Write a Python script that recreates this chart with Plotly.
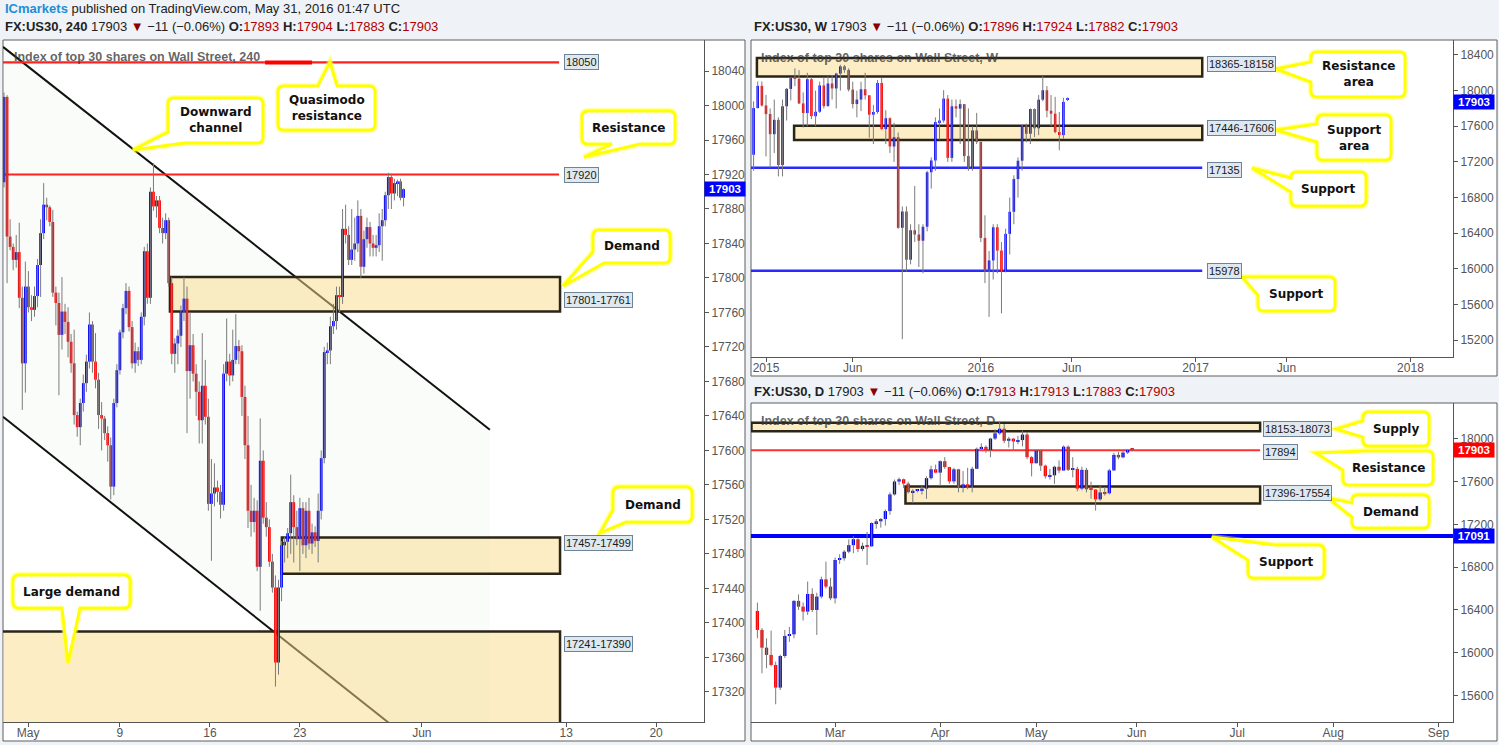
import plotly.graph_objects as go

W, H = 1499, 745

# ---------------- 4H (240) chart data ----------------
h4_open = [17911, 18010, 17848, 17836, 17821, 17830, 17777, 17701, 17790, 17766, 17763, 17779, 17815, 17852, 17885, 17882,
           17865, 17783, 17771, 17734, 17761, 17749, 17726, 17701, 17641, 17627, 17655, 17678, 17703, 17746, 17703, 17682,
           17641, 17637, 17620, 17606, 17558, 17655, 17693, 17737, 17765, 17785, 17743, 17701, 17715, 17705, 17755, 17831,
           17777, 17900, 17883, 17890, 17858, 17852, 17867, 17794, 17712, 17724, 17733, 17761, 17776, 17692, 17722, 17689,
           17668, 17635, 17675, 17639, 17538, 17550, 17557, 17552, 17537, 17689, 17703, 17687, 17705, 17721, 17715, 17662,
           17606, 17530, 17517, 17530, 17465, 17588, 17522, 17511, 17471, 17441, 17354, 17441, 17490, 17494, 17504, 17540,
           17511, 17497, 17533, 17490, 17530, 17492, 17505, 17495, 17530, 17591, 17714, 17716, 17744, 17750, 17780, 17778,
           17857, 17850, 17821, 17833, 17840, 17872, 17813, 17845, 17859, 17840, 17835, 17838, 17860, 17867, 17896, 17917,
           17898, 17910, 17912, 17893]
h4_high = [18015, 18012, 17868, 17840, 17850, 17864, 17790, 17819, 17808, 17780, 17790, 17822, 17868, 17910, 17893, 17884,
           17879, 17790, 17783, 17801, 17770, 17766, 17735, 17740, 17645, 17660, 17688, 17711, 17760, 17750, 17736, 17690,
           17656, 17640, 17628, 17615, 17660, 17700, 17740, 17770, 17794, 17790, 17750, 17725, 17720, 17760, 17836, 17840,
           17905, 17933, 17895, 17895, 17870, 17875, 17870, 17801, 17730, 17740, 17768, 17801, 17790, 17760, 17735, 17700,
           17680, 17736, 17705, 17660, 17590, 17585, 17565, 17560, 17700, 17753, 17712, 17740, 17758, 17728, 17722, 17675,
           17640, 17560, 17545, 17542, 17637, 17600, 17540, 17520, 17480, 17455, 17450, 17495, 17500, 17510, 17572, 17548,
           17530, 17545, 17540, 17540, 17545, 17515, 17512, 17550, 17600, 17720, 17725, 17755, 17770, 17790, 17790, 17880,
           17885, 17860, 17880, 17870, 17890, 17880, 17855, 17870, 17865, 17850, 17850, 17875, 17880, 17900, 17922, 17921,
           17915, 17914, 17915, 17904]
h4_low = [17905, 17794, 17832, 17809, 17812, 17765, 17647, 17667, 17760, 17750, 17755, 17766, 17778, 17845, 17867, 17860,
          17778, 17745, 17664, 17717, 17735, 17708, 17690, 17630, 17616, 17606, 17645, 17668, 17695, 17690, 17672, 17625,
          17600, 17612, 17587, 17543, 17548, 17650, 17688, 17730, 17758, 17738, 17695, 17690, 17698, 17700, 17745, 17770,
          17770, 17878, 17870, 17852, 17840, 17845, 17790, 17700, 17690, 17700, 17720, 17750, 17620, 17660, 17680, 17640,
          17608, 17608, 17630, 17530, 17472, 17535, 17540, 17521, 17530, 17680, 17675, 17680, 17700, 17700, 17640, 17590,
          17510, 17500, 17505, 17460, 17414, 17515, 17500, 17465, 17435, 17326, 17340, 17425, 17470, 17475, 17480, 17470,
          17490, 17460, 17480, 17475, 17485, 17480, 17488, 17470, 17520, 17585, 17700, 17700, 17735, 17740, 17760, 17770,
          17840, 17815, 17815, 17820, 17830, 17800, 17805, 17835, 17825, 17825, 17825, 17830, 17820, 17860, 17880, 17880,
          17890, 17895, 17890, 17883]
h4_close = [18010, 17848, 17836, 17821, 17830, 17777, 17701, 17790, 17766, 17763, 17779, 17815, 17852, 17885, 17882, 17865,
            17783, 17771, 17734, 17761, 17749, 17726, 17701, 17641, 17627, 17655, 17678, 17703, 17746, 17703, 17682, 17641,
            17637, 17620, 17606, 17558, 17655, 17693, 17737, 17765, 17785, 17743, 17701, 17715, 17705, 17755, 17831, 17777,
            17900, 17883, 17890, 17858, 17852, 17867, 17794, 17712, 17724, 17733, 17761, 17776, 17692, 17722, 17689, 17668,
            17635, 17675, 17639, 17538, 17550, 17557, 17552, 17537, 17689, 17703, 17687, 17705, 17721, 17715, 17662, 17606,
            17530, 17517, 17530, 17465, 17588, 17522, 17511, 17471, 17441, 17354, 17441, 17490, 17494, 17504, 17540, 17511,
            17497, 17533, 17490, 17530, 17492, 17505, 17495, 17530, 17591, 17714, 17716, 17744, 17750, 17780, 17778, 17857,
            17850, 17821, 17833, 17840, 17872, 17813, 17845, 17859, 17840, 17835, 17838, 17860, 17867, 17896, 17917, 17898,
            17910, 17912, 17893, 17903]
h4_tick_pos = [7.9, 38.0, 67.5, 97.0, 137.0, 184.3, 213.8]
h4_tick_text = ["May", "9", "16", "23", "Jun", "13", "20"]
h4_levels = [18050, 17920]
h4_zone_hi = [17801, 17499, 17390]
h4_zone_lo = [17761, 17457, 17241]

# ---------------- Weekly chart data (first bar = week -3) ----------------
w_open = [17280, 17804, 18053, 17833, 17737, 17511, 17672, 17165, 17824, 18019, 18140, 18133, 17856, 17749, 18128, 17713,
          17763, 18058, 17826, 18080, 18024, 18191, 18272, 18232, 18011, 17849, 17899, 18015, 17947, 17730, 17760, 18086,
          17568, 17690, 17373, 17477, 16460, 16643, 16102, 16433, 16385, 16315, 16472, 17084, 17216, 17647, 17664, 17910,
          17245, 17824, 17798, 17848, 17265, 17128, 17553, 17425, 16347, 15988, 16094, 16466, 16205, 15974, 16392, 16640,
          17007, 17213, 17602, 17516, 17793, 17577, 17898, 18004, 17774, 17741, 17535, 17501, 17896]
w_high = [17880, 18103, 18103, 17951, 17800, 17900, 17700, 17900, 18030, 18140, 18250, 18230, 17980, 18200, 18150, 18000,
          18100, 18150, 18160, 18175, 18200, 18290, 18288, 18250, 18100, 18000, 18100, 18200, 17950, 17840, 18120, 18140,
          17780, 17700, 17640, 17530, 16700, 16700, 16500, 16930, 16500, 16500, 17100, 17250, 17700, 17800, 18005, 17950,
          17900, 17900, 17900, 17850, 17800, 17600, 17750, 17425, 16600, 16200, 16500, 16500, 16300, 16450, 16800, 17050,
          17250, 17620, 17630, 17800, 17800, 17950, 18165, 18050, 17950, 17930, 17760, 17920, 17924]
w_low = [17100, 17800, 17820, 17262, 17136, 17300, 17037, 17037, 17664, 17890, 18050, 17850, 17585, 17600, 17680, 17600,
         17750, 17800, 17820, 17900, 17800, 18000, 18200, 17990, 17800, 17700, 17770, 17900, 17470, 17400, 17740, 17560,
         17400, 17300, 17200, 16450, 15210, 15970, 16050, 16300, 16020, 15950, 16420, 16900, 17100, 17450, 17640, 17200,
         17200, 17700, 17400, 17200, 17100, 17100, 17400, 16300, 15840, 15460, 15880, 15950, 15500, 15960, 16160, 16500,
         16800, 17100, 17420, 17400, 17480, 17500, 17880, 17700, 17600, 17520, 17330, 17460, 17882]
w_close = [17804, 18053, 17833, 17737, 17511, 17672, 17165, 17824, 18019, 18140, 18133, 17856, 17749, 18128, 17713, 17763,
           18058, 17826, 18080, 18024, 18191, 18272, 18232, 18011, 17849, 17899, 18015, 17947, 17730, 17760, 18086, 17568,
           17690, 17373, 17477, 16460, 16643, 16102, 16433, 16385, 16315, 16472, 17084, 17216, 17647, 17664, 17910, 17245,
           17824, 17798, 17848, 17265, 17128, 17553, 17425, 16347, 15988, 16094, 16466, 16205, 15974, 16392, 16640, 17007,
           17213, 17602, 17516, 17793, 17577, 17898, 18004, 17774, 17741, 17535, 17501, 17873, 17903]
w_tick_pos = [0, 21, 52, 74, 104, 126, 156]
w_tick_text = ["2015", "Jun", "2016", "Jun", "2017", "Jun", "2018"]
w_zone_hi = [18365, 17606]
w_zone_lo = [18158, 17446]
w_supports = [17135, 15978]

# ---------------- Daily chart data (first bar = Feb 5 2016, index -17) ----------------
d_open = [16390, 16212, 16046, 15978, 15884, 15672, 15968, 16156, 16171, 16484, 16430, 16384, 16549, 16399, 16524, 16686, 16618,
          16508, 16867, 16883, 16945, 17006, 17061, 16970, 17000, 16995, 17213, 17229, 17251, 17325, 17481, 17602, 17623, 17582,
          17502, 17515, 17520, 17535, 17633, 17716,
          17685, 17792, 17737, 17603, 17716, 17541, 17576, 17556, 17721, 17908, 17926, 17897, 18004, 18053, 18096, 17983, 18003,
          17977, 17990, 18041, 17830,
          17773, 17891, 17750, 17651, 17660, 17740, 17705, 17928, 17711, 17720, 17535, 17711, 17529, 17526, 17435, 17500, 17492,
          17706, 17851, 17828, 17873, 17913]
d_high = [16468, 16230, 16134, 16206, 15915, 15980, 16212, 16240, 16490, 16545, 16470, 16665, 16602, 16560, 16711, 16852, 16700,
          16890, 16920, 16960, 17060, 17090, 17070, 17030, 17130, 17220, 17250, 17260, 17340, 17500, 17620, 17640, 17630, 17600,
          17530, 17530, 17560, 17650, 17750, 17760,
          17800, 17830, 17740, 17730, 17720, 17700, 17730, 17740, 17920, 17960, 17940, 18010, 18090, 18167, 18140, 18020, 18010,
          18030, 18080, 18060, 17840,
          17900, 17900, 17760, 17720, 17750, 17800, 17940, 17940, 17830, 17740, 17740, 17730, 17600, 17530, 17560, 17550, 17720,
          17870, 17880, 17890, 17905, 17913]
d_low = [16134, 15806, 15853, 15870, 15516, 15650, 15950, 16100, 16134, 16400, 16300, 16352, 16380, 16165, 16508, 16600, 16490,
         16460, 16830, 16860, 16930, 16930, 16940, 16950, 16820, 16990, 17160, 17170, 17190, 17290, 17470, 17570, 17540, 17490,
         17400, 17500, 17480, 17440, 17620, 17680,
         17560, 17720, 17580, 17580, 17500, 17500, 17530, 17500, 17720, 17890, 17870, 17830, 17990, 18040, 17960, 17920, 17890,
         17950, 17930, 17810, 17650,
         17770, 17700, 17630, 17620, 17580, 17680, 17700, 17700, 17640, 17510, 17520, 17500, 17440, 17330, 17420, 17470, 17480,
         17700, 17810, 17820, 17860, 17883]
d_close = [16212, 16046, 15978, 15884, 15672, 15968, 16156, 16171, 16484, 16430, 16384, 16549, 16399, 16524, 16686, 16618, 16508,
           16867, 16883, 16945, 17006, 17061, 16970, 17000, 16995, 17213, 17229, 17251, 17325, 17481, 17602, 17623, 17582, 17502,
           17515, 17520, 17535, 17633, 17716, 17685,
           17792, 17737, 17603, 17716, 17541, 17576, 17556, 17721, 17908, 17926, 17897, 18004, 18053, 18096, 17983, 18003, 17977,
           17990, 18041, 17830, 17773,
           17891, 17750, 17651, 17660, 17740, 17705, 17928, 17711, 17720, 17535, 17711, 17529, 17526, 17435, 17500, 17492, 17706,
           17851, 17828, 17873, 17896, 17903]
d_tick_pos = [0, 23, 44, 66, 88, 109, 132]
d_tick_text = ["Mar", "Apr", "May", "Jun", "Jul", "Aug", "Sep"]
d_zone_hi = [18153, 17554]
d_zone_lo = [18073, 17396]
d_resistance = 17894
d_support = 17091
last_price = 17903

h4_x = list(range(len(h4_open)))
w_x = list(range(-3, -3 + len(w_open)))
d_x = list(range(-17, -17 + len(d_open)))


def X(p):
    return p / W


def Y(p):
    return 1 - p / H


fig = go.Figure()


def add_candles(xs, o, h, l, c, xa, ya, width, eps):
    wx, wy = [], []
    for x, hi, lo in zip(xs, h, l):
        wx += [x, x, None]
        wy += [lo, hi, None]
    fig.add_trace(go.Scatter(x=wx, y=wy, mode="lines", line=dict(color="#7b7b7b", width=1),
                             xaxis=xa, yaxis=ya, hoverinfo="skip", showlegend=False))
    base = [min(a, b) for a, b in zip(o, c)]
    hgt = [max(abs(b - a), eps) for a, b in zip(o, c)]
    col = ["#0000ff" if b >= a else "#ff0000" for a, b in zip(o, c)]
    fig.add_trace(go.Bar(x=xs, y=hgt, base=base, width=width,
                         marker=dict(color=col, line=dict(width=0)),
                         xaxis=xa, yaxis=ya, hoverinfo="skip", showlegend=False))


add_candles(h4_x, h4_open, h4_high, h4_low, h4_close, "x", "y", 0.9, 1.5)
add_candles(w_x, w_open, w_high, w_low, w_close, "x2", "y2", 0.62, 12)
add_candles(d_x, d_open, d_high, d_low, d_close, "x3", "y3", 0.72, 10)

shapes = []
# panel backgrounds and frames
panels = [(3, 40, 745, 741), (751, 40, 1497, 376), (751, 403, 1497, 741)]
for (a, b, c2, d) in panels:
    shapes.append(dict(type="rect", xref="paper", yref="paper", x0=X(a), x1=X(c2), y0=Y(d), y1=Y(b),
                       fillcolor="white", line=dict(color="#5f5f5f", width=1), layer="below"))

ZFILL = "rgba(250,220,140,0.5)"
ZLINE = dict(color="#2a2516", width=2.5)

# ---- 4H chart drawings ----
shapes.append(dict(type="path", xref="x", yref="y",
                   path="M-0.33,18068 L159.3,17624 L159.3,17191 L-0.33,17639 Z",
                   fillcolor="rgba(225,238,225,0.2)", line=dict(width=0), layer="below"))
shapes.append(dict(type="line", xref="x", yref="y", x0=-0.33, y0=18068, x1=159.3, y1=17624,
                   line=dict(color="#111", width=2), layer="below"))
shapes.append(dict(type="line", xref="x", yref="y", x0=-0.33, y0=17639, x1=159.3, y1=17191,
                   line=dict(color="#111", width=2), layer="below"))
for lv in h4_levels:
    shapes.append(dict(type="line", xref="x", yref="y", x0=-1, x1=182.0, y0=lv, y1=lv,
                       line=dict(color="#ff2020", width=2.2), layer="below"))
shapes.append(dict(type="line", xref="x", yref="y", x0=85.6, x1=101.0, y0=h4_levels[0], y1=h4_levels[0],
                   line=dict(color="#ff0000", width=4), layer="below"))
h4_zone_x0 = [54.4, 91.1, -5]
for hi, lo, x0 in zip(h4_zone_hi, h4_zone_lo, h4_zone_x0):
    shapes.append(dict(type="rect", xref="x", yref="y", x0=x0, x1=182.3, y0=lo, y1=hi,
                       fillcolor=ZFILL, line=ZLINE, layer="below"))

# ---- Weekly drawings ----
w_zone_x0 = [-2.2, 6.8]
for hi, lo, x0 in zip(w_zone_hi, w_zone_lo, w_zone_x0):
    shapes.append(dict(type="rect", xref="x2", yref="y2", x0=x0, x1=105.6, y0=lo, y1=hi,
                       fillcolor=ZFILL, line=ZLINE, layer="below"))
for lv in w_supports:
    shapes.append(dict(type="line", xref="x2", yref="y2", x0=-5, x1=105.6, y0=lv, y1=lv,
                       line=dict(color="#2a2aff", width=2.5), layer="below"))

# ---- Daily drawings ----
shapes.append(dict(type="rect", xref="x3", yref="y3", x0=-18.3, x1=93.0, y0=d_zone_lo[0], y1=d_zone_hi[0],
                   fillcolor=ZFILL, line=ZLINE, layer="below"))
shapes.append(dict(type="rect", xref="x3", yref="y3", x0=15.4, x1=93.0, y0=d_zone_lo[1], y1=d_zone_hi[1],
                   fillcolor=ZFILL, line=ZLINE, layer="below"))
shapes.append(dict(type="line", xref="x3", yref="y3", x0=-20, x1=93.0, y0=d_resistance, y1=d_resistance,
                   line=dict(color="#ff3030", width=2), layer="below"))
shapes.append(dict(type="line", xref="x3", yref="y3", x0=-20, x1=140, y0=d_support, y1=d_support,
                   line=dict(color="#0000ff", width=4), layer="below"))


# ---- callout bubbles ----
def bubble_path(x0, y0, x1, y1, kind, a, b, tip, r=6):
    tx, ty = tip

    def P(x, y):
        return f"{x / W:.5f},{1 - y / H:.5f}"
    s = []
    if kind == "tl":
        s.append("M" + P(a, y0))
    else:
        s.append("M" + P(x0 + r, y0))
        if kind == "top":
            s += ["L" + P(a, y0), "L" + P(tx, ty), "L" + P(b, y0)]
    s.append("L" + P(x1 - r, y0))
    s.append("Q" + P(x1, y0) + " " + P(x1, y0 + r))
    s.append("L" + P(x1, y1 - r))
    s.append("Q" + P(x1, y1) + " " + P(x1 - r, y1))
    if kind == "bottom":
        s += ["L" + P(b, y1), "L" + P(tx, ty), "L" + P(a, y1)]
    if kind == "bl":
        s += ["L" + P(a, y1), "L" + P(tx, ty), "L" + P(x0, b)]
    else:
        s.append("L" + P(x0 + r, y1))
        s.append("Q" + P(x0, y1) + " " + P(x0, y1 - r))
        if kind == "left":
            s += ["L" + P(x0, b), "L" + P(tx, ty), "L" + P(x0, a)]
    if kind == "tl":
        s += ["L" + P(x0, b), "L" + P(tx, ty), "Z"]
    else:
        s += ["L" + P(x0, y0 + r), "Q" + P(x0, y0) + " " + P(x0 + r, y0), "Z"]
    return " ".join(s)


callouts = [
    ("Downward<br>channel", (168, 98, 263, 143), "bl", 184, 132, (133, 150)),
    ("Quasimodo<br>resistance", (278, 86, 375, 130), "top", 318, 337, (330, 62)),
    ("Resistance", (582, 111, 675, 144), "bottom", 612, 640, (584, 157)),
    ("Demand", (593, 230, 670, 263), "bl", 604, 252, (563, 286)),
    ("Demand", (613, 487, 692, 522), "bl", 626, 510, (600, 533)),
    ("Large demand", (13, 575, 130, 608), "bottom", 62, 80, (68, 663)),
    ("Resistance<br>area", (1311, 52, 1405, 97), "left", 62, 82, (1276, 69)),
    ("Support<br>area", (1317, 115, 1391, 160), "left", 124, 142, (1276, 130)),
    ("Support", (1291, 172, 1366, 206), "left", 178, 192, (1252, 168)),
    ("Support", (1258, 277, 1335, 311), "tl", 1280, 295, (1242, 277)),
    ("Supply", (1363, 412, 1429, 446), "left", 421, 437, (1336, 429)),
    ("Resistance", (1343, 451, 1433, 485), "tl", 1365, 470, (1316, 453)),
    ("Demand", (1352, 495, 1429, 528), "left", 503, 517, (1328, 498)),
    ("Support", (1248, 545, 1324, 578), "tl", 1275, 560, (1212, 537)),
]
annotations = []
for text, (x0, y0, x1, y1), kind, a, b, tip in callouts:
    pth = bubble_path(x0, y0, x1, y1, kind, a, b, tip)
    shapes.append(dict(type="path", xref="paper", yref="paper", path=pth, fillcolor="white",
                       line=dict(color="rgba(255,255,80,0.45)", width=6), layer="above"))
    shapes.append(dict(type="path", xref="paper", yref="paper", path=pth, fillcolor="white",
                       line=dict(color="#ffff00", width=3), layer="above"))
    annotations.append(dict(xref="paper", yref="paper", x=X((x0 + x1) / 2), y=Y((y0 + y1) / 2),
                            text=f"<b>{text}</b>", showarrow=False, xanchor="center", yanchor="middle",
                            font=dict(family="DejaVu Sans", size=12, color="#111")))


# ---- level tags ----
def tag(xref, yref, x, y, text):
    annotations.append(dict(xref=xref, yref=yref, x=x, y=y, text=text, showarrow=False,
                            xanchor="left", yanchor="middle", bgcolor="#dfe8ef", bordercolor="#6e8397",
                            borderwidth=1, borderpad=1,
                            font=dict(family="Liberation Sans", size=11, color="#1a1a1a")))


tag("x", "y", 183.6, 18050, str(h4_levels[0]))
tag("x", "y", 183.6, 17920, str(h4_levels[1]))
tag("x", "y", 183.6, 17775, f"{h4_zone_hi[0]}-{h4_zone_lo[0]}")
tag("x", "y", 183.6, 17493, f"{h4_zone_lo[1]}-{h4_zone_hi[1]}")
tag("x", "y", 183.6, 17376, f"{h4_zone_lo[2]}-{h4_zone_hi[2]}")
tag("x2", "y2", 106.8, 18300, f"{w_zone_hi[0]}-{w_zone_lo[0]}")
tag("x2", "y2", 106.8, 17582, f"{w_zone_lo[1]}-{w_zone_hi[1]}")
tag("x2", "y2", 106.8, 17112, str(w_supports[0]))
tag("x2", "y2", 106.8, 15970, str(w_supports[1]))
tag("x3", "y3", 93.7, 18094, f"{d_zone_hi[0]}-{d_zone_lo[0]}")
tag("x3", "y3", 93.7, 17881, str(d_resistance))
tag("x3", "y3", 93.7, 17494, f"{d_zone_lo[1]}-{d_zone_hi[1]}")


# ---- axis price tags ----
def axis_tag(yref, y, text, color, xpx, dy=0.0):
    annotations.append(dict(xref="paper", yref=yref, x=X(xpx), y=y, yshift=dy, text=f"<b>{text}</b>",
                            showarrow=False, xanchor="left", yanchor="middle", bgcolor=color, borderpad=1,
                            width=38, height=12,
                            font=dict(family="Liberation Sans", size=11.5, color="white")))


axis_tag("y", last_price, str(last_price), "#0000ff", 704)
axis_tag("y2", last_price, str(last_price), "#0000ff", 1453, -2.5)
axis_tag("y3", last_price, str(last_price), "#ff0000", 1453, -1)
axis_tag("y3", d_support, str(d_support), "#0000ff", 1453)

# ---- headers & watermarks ----
RED = "#b00000"


def header(xpx, ypx, title, o, h, l, c):
    txt = (f"<b>{title}</b> 17903 <span style='color:#8b0000'>▼</span> −11 (−0.06%) "
           f"<b>O:</b><span style='color:{RED}'>{o}</span> <b>H:</b><span style='color:{RED}'>{h}</span> "
           f"<b>L:</b><span style='color:{RED}'>{l}</span> <b>C:</b><span style='color:{RED}'>{c}</span>")
    annotations.append(dict(xref="paper", yref="paper", x=X(xpx), y=Y(ypx), text=txt, showarrow=False,
                            xanchor="left", yanchor="middle",
                            font=dict(family="Liberation Sans", size=13, color="#222")))


annotations.append(dict(xref="paper", yref="paper", x=X(3), y=Y(8),
                        text="<span style='color:#1f8dd6'><b>ICmarkets</b></span> published on TradingView.com, May 31, 2016 01:47 UTC",
                        showarrow=False, xanchor="left", yanchor="middle",
                        font=dict(family="Liberation Sans", size=13, color="#222")))
header(3, 26, "FX:US30, 240", 17893, 17904, 17883, 17903)
header(752, 26, "FX:US30, W", 17896, 17924, 17882, 17903)
header(752, 391, "FX:US30, D", 17913, 17913, 17883, 17903)

for xpx, ypx, t in [(12, 57, "Index of top 30 shares on Wall Street, 240"),
                    (759, 58, "Index of top 30 shares on Wall Street, W"),
                    (759, 421, "Index of top 30 shares on Wall Street, D")]:
    annotations.append(dict(xref="paper", yref="paper", x=X(xpx), y=Y(ypx), text=f"<b>{t}</b>", showarrow=False,
                            xanchor="left", yanchor="middle",
                            font=dict(family="Liberation Sans", size=12.5, color="rgba(60,60,60,0.8)")))

axis_font = dict(family="Liberation Sans", size=12, color="#555")
common_x = dict(showgrid=False, zeroline=False, showline=True, linecolor="#555", linewidth=1,
                ticks="outside", ticklen=4, tickcolor="#555", tickfont=axis_font, tickmode="array",
                fixedrange=True, ticklabelstandoff=-4)
common_y = dict(showgrid=False, zeroline=False, showline=True, linecolor="#555", linewidth=1, side="right",
                ticks="outside", ticklen=4, tickcolor="#555", tickfont=axis_font, tickmode="array",
                tickformat="d", fixedrange=True)

fig.update_layout(
    width=W, height=H, autosize=False,
    margin=dict(l=0, r=0, t=0, b=0),
    paper_bgcolor="#eff2f6", plot_bgcolor="white",
    barmode="overlay", showlegend=False,
    font=dict(family="Liberation Sans"),
    xaxis=dict(domain=[X(3), X(704)], range=[-0.33, 229.5], anchor="y",
               tickvals=h4_tick_pos, ticktext=h4_tick_text, **common_x),
    yaxis=dict(domain=[Y(722), Y(40)], range=[17285, 18076], anchor="x",
               tickvals=list(range(17320, 18041, 40)), **common_y),
    xaxis2=dict(domain=[X(751), X(1453)], range=[-3.63, 166.3], anchor="y2",
                tickvals=w_tick_pos, ticktext=w_tick_text, **common_x),
    yaxis2=dict(domain=[Y(357), Y(40)], range=[15010, 18568], anchor="x2",
                tickvals=list(range(15200, 18401, 400)), **common_y),
    xaxis3=dict(domain=[X(751), X(1453)], range=[-18.4, 135.2], anchor="y3",
                tickvals=d_tick_pos, ticktext=d_tick_text, **common_x),
    yaxis3=dict(domain=[Y(722), Y(403)], range=[15350, 18337], anchor="x3",
                tickvals=list(range(15600, 18001, 400)), **common_y),
    shapes=shapes, annotations=annotations,
)

fig.write_html("out.html", config={"displayModeBar": False},
               post_script="document.body.style.margin='0';")
